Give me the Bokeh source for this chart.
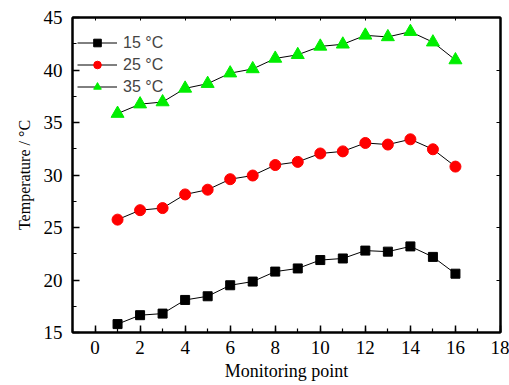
from bokeh.plotting import figure
from bokeh.models import LinearAxis, SingleIntervalTicker, Range1d, Legend, LegendItem
from bokeh.embed import file_html
from bokeh.resources import INLINE

points = list(range(1, 17))
t15 = [15.8, 16.65, 16.8, 18.1, 18.45, 19.5, 19.85, 20.8, 21.1, 21.9, 22.05, 22.8, 22.7, 23.2, 22.2, 20.6]
t25 = [25.75, 26.65, 26.85, 28.15, 28.6, 29.6, 29.95, 30.95, 31.25, 32.05, 32.25, 33.05, 32.9, 33.4, 32.45, 30.8]
t35 = [35.85, 36.75, 36.95, 38.25, 38.7, 39.7, 40.1, 41.1, 41.45, 42.25, 42.45, 43.3, 43.15, 43.65, 42.65, 40.95]
labels = ["15 \u00b0C", "25 \u00b0C", "35 \u00b0C"]

SERIF = "Liberation Serif"
SANS = "Liberation Sans"

p = figure(width=509, height=385, output_backend="svg", toolbar_location=None,
           x_range=Range1d(-1, 18), y_range=Range1d(15, 45),
           min_border_left=72, min_border_right=9, min_border_top=17, min_border_bottom=53,
           x_axis_label="Monitoring point", y_axis_label="Temperature / \u00b0C")
p.grid.visible = False
p.outline_line_color = "black"
p.outline_line_width = 2
p.background_fill_color = "white"
p.border_fill_color = "white"

p.xaxis.ticker = SingleIntervalTicker(interval=2, num_minor_ticks=2)
p.yaxis.ticker = SingleIntervalTicker(interval=5, num_minor_ticks=2)

for ax in (p.xaxis[0], p.yaxis[0]):
    ax.major_tick_in = 7
    ax.major_tick_out = 0
    ax.minor_tick_in = 4
    ax.minor_tick_out = 0
    ax.axis_line_width = 2
    ax.major_tick_line_width = 1.5
    ax.minor_tick_line_width = 1.2
    ax.major_label_text_font = SERIF
    ax.major_label_text_font_size = "19px"
    ax.major_label_text_color = "black"
    ax.axis_label_text_font = SERIF
    ax.axis_label_text_font_style = "normal"
    ax.axis_label_text_color = "black"
p.xaxis[0].axis_label_text_font_size = "18px"
p.yaxis[0].axis_label_text_font_size = "16px"
p.xaxis[0].major_label_standoff = 8
p.xaxis[0].axis_label_standoff = 4
p.yaxis[0].major_label_standoff = 10
p.yaxis[0].axis_label_standoff = 8

rax = LinearAxis(ticker=SingleIntervalTicker(interval=5, num_minor_ticks=2), major_label_text_font_size="0px",
                 major_tick_in=4, major_tick_out=0, minor_tick_in=0, minor_tick_out=0, axis_line_width=2)
tax = LinearAxis(ticker=SingleIntervalTicker(interval=2, num_minor_ticks=2), major_label_text_font_size="0px",
                 major_tick_in=3, major_tick_out=0, minor_tick_in=0, minor_tick_out=0, axis_line_width=2)
p.add_layout(rax, "right")
p.add_layout(tax, "above")
p.min_border_right = 9
p.min_border_top = 17

series = [(t15, "square", "black", 9), (t25, "circle", "#ff0000", 11), (t35, "triangle", "#00ee00", 13)]
items = []
for (ys, marker, color, size), lab in zip(series, labels):
    l = p.line(points, ys, line_color="black", line_width=1)
    s = p.scatter(points, ys, marker=marker, size=size, fill_color=color, line_color=color)
    items.append(LegendItem(label=lab, renderers=[l, s]))

legend = Legend(items=items, location=(3, 234))
legend.background_fill_alpha = 0
legend.border_line_alpha = 0
legend.label_text_font = SANS
legend.label_text_font_size = "16px"
legend.glyph_width = 40
legend.glyph_height = 19
legend.spacing = 3
legend.padding = 2
legend.margin = 0
legend.label_standoff = 6
p.add_layout(legend)

open("out.html", "w").write(file_html(p, INLINE))
